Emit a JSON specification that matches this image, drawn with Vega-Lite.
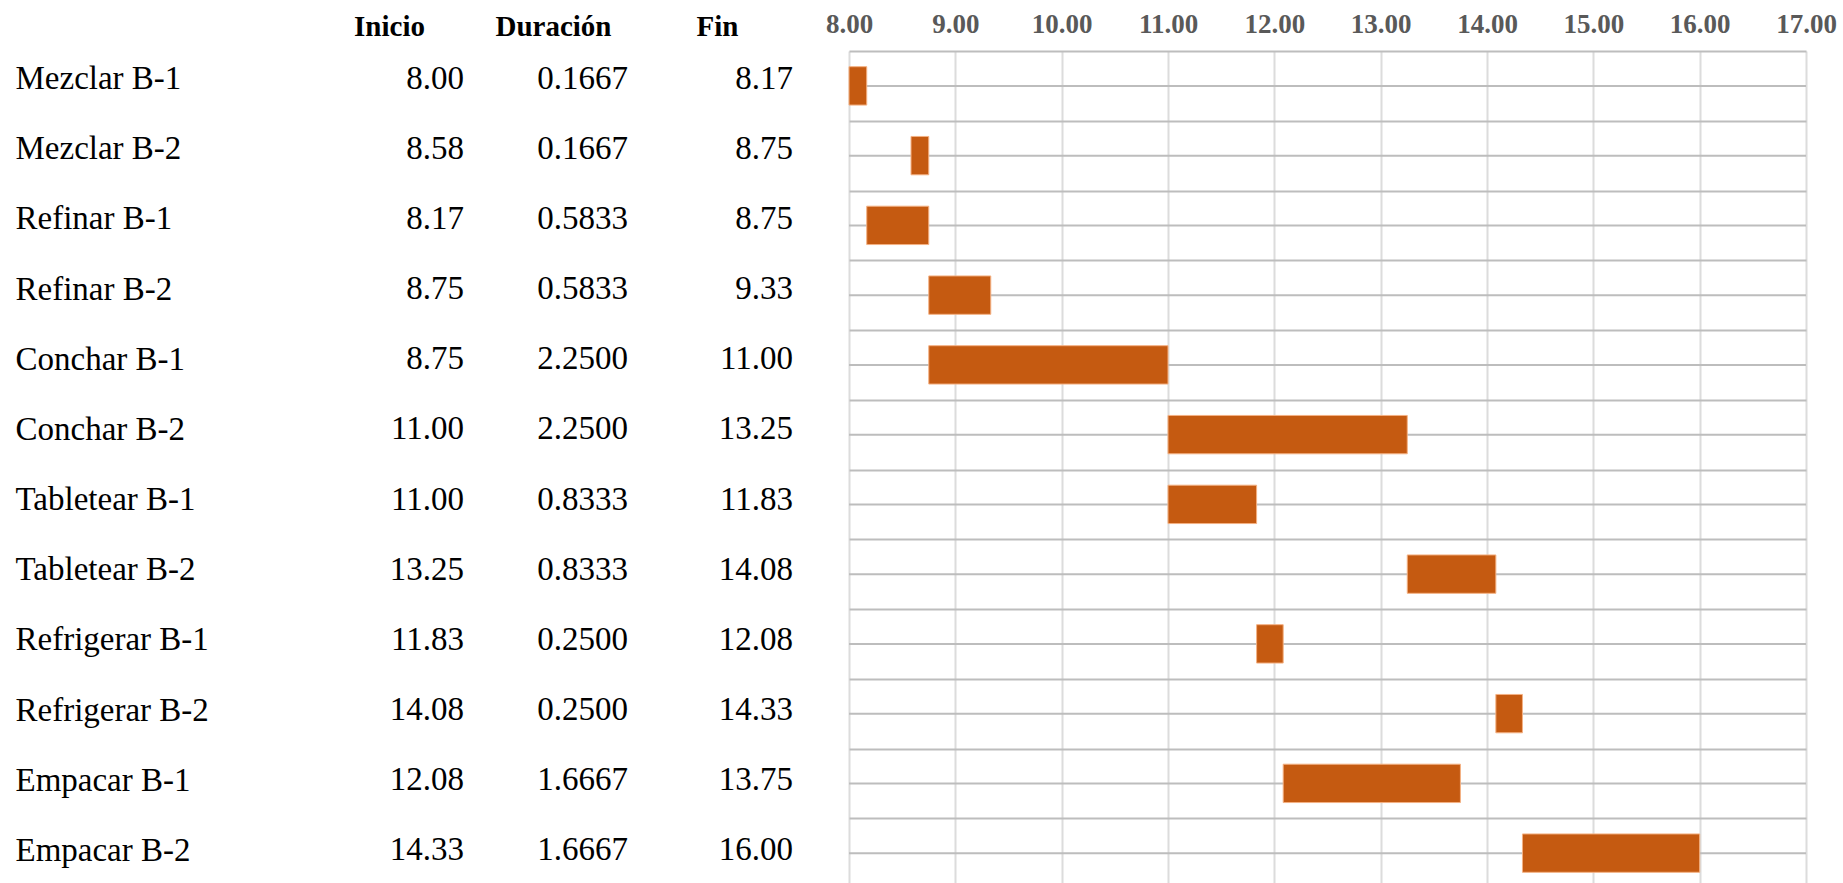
{
  "$schema": "https://vega.github.io/schema/vega-lite/v6.json",
  "background": "white",
  "padding": {"left": 15, "top": 10, "right": 0, "bottom": 0},
  "bounds": "flush",
  "spacing": 50,
  "config": {"view": {"stroke": null}, "font": "Liberation Serif"},
  "data": {
    "values": [
      {"tarea": "Mezclar B-1", "inicio": 8.0, "duracion": 0.1667, "fin": 8.1667},
      {"tarea": "Mezclar B-2", "inicio": 8.5833, "duracion": 0.1667, "fin": 8.75},
      {"tarea": "Refinar B-1", "inicio": 8.1667, "duracion": 0.5833, "fin": 8.75},
      {"tarea": "Refinar B-2", "inicio": 8.75, "duracion": 0.5833, "fin": 9.3333},
      {"tarea": "Conchar B-1", "inicio": 8.75, "duracion": 2.25, "fin": 11.0},
      {"tarea": "Conchar B-2", "inicio": 11.0, "duracion": 2.25, "fin": 13.25},
      {"tarea": "Tabletear B-1", "inicio": 11.0, "duracion": 0.8333, "fin": 11.8333},
      {"tarea": "Tabletear B-2", "inicio": 13.25, "duracion": 0.8333, "fin": 14.0833},
      {"tarea": "Refrigerar B-1", "inicio": 11.8333, "duracion": 0.25, "fin": 12.0833},
      {"tarea": "Refrigerar B-2", "inicio": 14.0833, "duracion": 0.25, "fin": 14.3333},
      {"tarea": "Empacar B-1", "inicio": 12.0833, "duracion": 1.6667, "fin": 13.75},
      {"tarea": "Empacar B-2", "inicio": 14.3333, "duracion": 1.6667, "fin": 16.0}
    ]
  },
  "hconcat": [
    {
      "width": 492,
      "height": 842,
      "encoding": {
        "y": {
          "field": "tarea", "type": "nominal", "sort": null,
          "scale": {"paddingInner": 0, "paddingOuter": 0},
          "axis": {
            "orient": "left", "title": null, "domain": false, "ticks": false, "tickSize": 0,
            "grid": false, "labelPadding": 292, "labelAlign": "left", "labelBaseline": "alphabetic",
            "labelOffset": 2.5, "labelFont": "Liberation Serif", "labelFontSize": 33,
            "labelColor": "#000000", "labelLimit": 0, "minExtent": 0
          }
        }
      },
      "layer": [
        {
          "mark": {"type": "text", "align": "right", "baseline": "alphabetic", "dx": 75, "dy": 2.5, "font": "Liberation Serif", "fontSize": 33, "color": "#000000"},
          "encoding": {
            "x": {
              "datum": "Inicio", "type": "nominal",
              "scale": {"type": "point", "domain": ["Inicio", "Duración", "Fin"], "padding": 0.5, "align": 0.5},
              "axis": {
                "orient": "top", "title": null, "domain": false, "ticks": false, "tickSize": 0, "grid": false,
                "labelAngle": 0, "labelPadding": 16, "labelBaseline": "alphabetic",
                "labelFont": "Liberation Serif", "labelFontWeight": "bold", "labelFontSize": 29, "labelColor": "#000000"
              }
            },
            "text": {"field": "inicio", "type": "quantitative", "format": ".2f"}
          }
        },
        {
          "mark": {"type": "text", "align": "right", "baseline": "alphabetic", "dx": 75, "dy": 2.5, "font": "Liberation Serif", "fontSize": 33, "color": "#000000"},
          "encoding": {
            "x": {"datum": "Duración", "type": "nominal"},
            "text": {"field": "duracion", "type": "quantitative", "format": ".4f"}
          }
        },
        {
          "mark": {"type": "text", "align": "right", "baseline": "alphabetic", "dx": 76, "dy": 2.5, "font": "Liberation Serif", "fontSize": 33, "color": "#000000"},
          "encoding": {
            "x": {"datum": "Fin", "type": "nominal"},
            "text": {"field": "fin", "type": "quantitative", "format": ".2f"}
          }
        }
      ]
    },
    {
      "width": 957,
      "height": 837,
      "encoding": {
        "y": {
          "field": "tarea", "type": "nominal", "sort": null,
          "scale": {"paddingInner": 0, "paddingOuter": 0},
          "axis": {
            "orient": "left", "title": null, "labels": false, "ticks": false, "domain": false,
            "grid": true, "tickBand": "extent", "gridColor": "#bdbdbd", "gridWidth": 2, "minExtent": 0
          }
        }
      },
      "layer": [
        {
          "mark": {"type": "rule", "color": "#bdbdbd", "strokeWidth": 2},
          "encoding": {}
        },
        {
          "mark": {"type": "bar", "height": {"band": 0.55}, "fill": "#C55A11", "stroke": "#F4B183", "strokeWidth": 1},
          "encoding": {
            "x": {
              "field": "inicio", "type": "quantitative",
              "scale": {"domain": [8, 17], "nice": false, "zero": false},
              "axis": {
                "orient": "top", "title": null, "values": [8, 9, 10, 11, 12, 13, 14, 15, 16, 17],
                "format": ".2f", "domain": false, "ticks": false, "tickSize": 0,
                "labelPadding": 19, "labelBaseline": "alphabetic", "labelFont": "Liberation Serif",
                "labelFontWeight": "bold", "labelFontSize": 27, "labelColor": "#595959",
                "labelFlush": false, "labelOverlap": false,
                "grid": true, "gridColor": "#dcdcdc", "gridWidth": 2
              }
            },
            "x2": {"field": "fin"}
          }
        }
      ]
    }
  ]
}
